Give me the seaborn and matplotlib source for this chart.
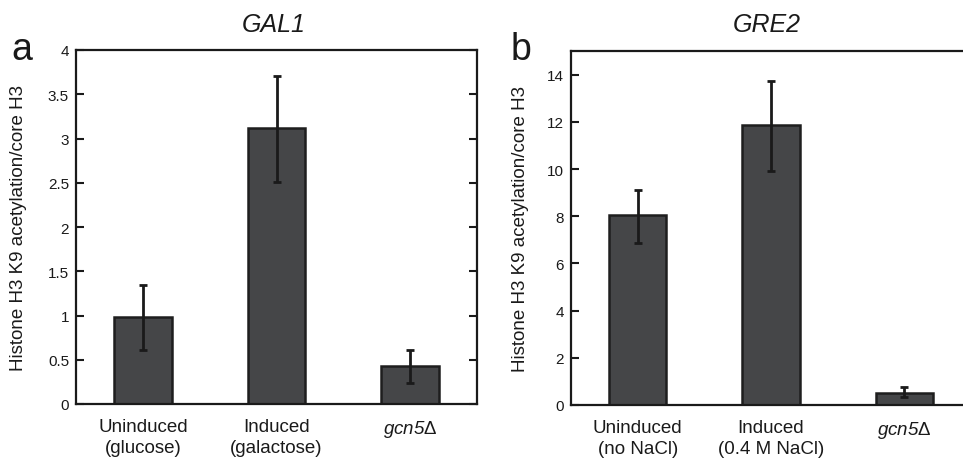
import numpy as np
import pandas as pd
import matplotlib
matplotlib.use("Agg")
import matplotlib.pyplot as plt
import seaborn as sns

# ---- data ----
gcn = r"$\mathrm{gcn5}\mathsf{\Delta}$"
cats_a = ["Uninduced\n(glucose)", "Induced\n(galactose)", gcn]
vals_a = [0.98, 3.12, 0.43]
lo_a = [0.61, 2.51, 0.24]
hi_a = [1.34, 3.71, 0.61]
yticks_a = [0, 0.5, 1, 1.5, 2, 2.5, 3, 3.5, 4]
yticklabels_a = ["0", "0.5", "1", "1.5", "2", "2.5", "3", "3.5", "4"]

cats_b = ["Uninduced\n(no NaCl)", "Induced\n(0.4 M NaCl)", gcn]
vals_b = [8.05, 11.88, 0.50]
lo_b = [6.85, 9.90, 0.35]
hi_b = [9.12, 13.74, 0.78]
yticks_b = [0, 2, 4, 6, 8, 10, 12, 14]

ylabel = "Histone H3 K9 acetylation/core H3"

sns.set_theme(style="white")
plt.rcParams["font.family"] = ["Liberation Sans", "DejaVu Sans"]
plt.rcParams["mathtext.fontset"] = "custom"
plt.rcParams["mathtext.rm"] = "Liberation Sans:italic"
plt.rcParams["mathtext.it"] = "Liberation Sans:italic"
plt.rcParams["mathtext.sf"] = "Liberation Sans"

W, H = 963, 460
fig = plt.figure(figsize=(W / 100, H / 100), dpi=100)

bar_color = "#454648"
edge_color = "#1e1e1e"


def panel(rect, cats, vals, lo, hi, ylim, yticks, yticklabels, label_x):
    ax = fig.add_axes(rect)
    df = pd.DataFrame({"cond": cats, "val": vals})
    sns.barplot(data=df, x="cond", y="val", ax=ax, color=bar_color,
                width=0.43, edgecolor=edge_color, linewidth=1.8,
                saturation=1, errorbar=None)
    pos = np.arange(len(cats))
    v = np.array(vals)
    yerr = [v - np.array(lo), np.array(hi) - v]
    ax.errorbar(pos, v, yerr=yerr, fmt="none", ecolor="#1a1a1a",
                elinewidth=2.0, capsize=2.8, capthick=2.0, zorder=5)
    ax.set_xlim(-0.5, 2.5)
    ax.set_ylim(*ylim)
    ax.set_yticks(yticks)
    ax.set_yticklabels(yticklabels)
    ax.set_xlabel("")
    ax.set_ylabel(ylabel, fontsize=13.5, color="#1a1a1a")
    ax.yaxis.set_label_coords(label_x, 0.5)
    for s in ax.spines.values():
        s.set_visible(True)
        s.set_color("#1a1a1a")
        s.set_linewidth(1.6)
    ax.tick_params(axis="y", direction="in", length=6, width=1.5,
                   left=True, right=True, labelsize=11, pad=5,
                   colors="#1a1a1a")
    ax.tick_params(axis="x", length=0, pad=10, labelsize=13.5,
                   colors="#1a1a1a")
    for t in ax.get_xticklabels():
        t.set_linespacing(1.3)
    return ax


ax_a = panel([76 / W, 1 - 405 / H, 401 / W, 354 / H], cats_a, vals_a, lo_a, hi_a,
             (0, 4), yticks_a, yticklabels_a, -0.122)
ax_b = panel([571 / W, 1 - 406 / H, 400 / W, 354 / H], cats_b, vals_b, lo_b, hi_b,
             (0, 15), yticks_b, [str(t) for t in yticks_b], -0.105)

fig.text(274 / W, 1 - 25 / H, "GAL1", ha="center", va="center",
         fontsize=18, style="italic", color="#1a1a1a")
fig.text(767 / W, 1 - 25 / H, "GRE2", ha="center", va="center",
         fontsize=18, style="italic", color="#1a1a1a")
fig.text(11 / W, 1 - 60 / H, "a", ha="left", va="baseline",
         fontsize=27, color="#1a1a1a")
fig.text(511 / W, 1 - 60 / H, "b", ha="left", va="baseline",
         fontsize=27, color="#1a1a1a")

fig.savefig("out.png", dpi=100)
